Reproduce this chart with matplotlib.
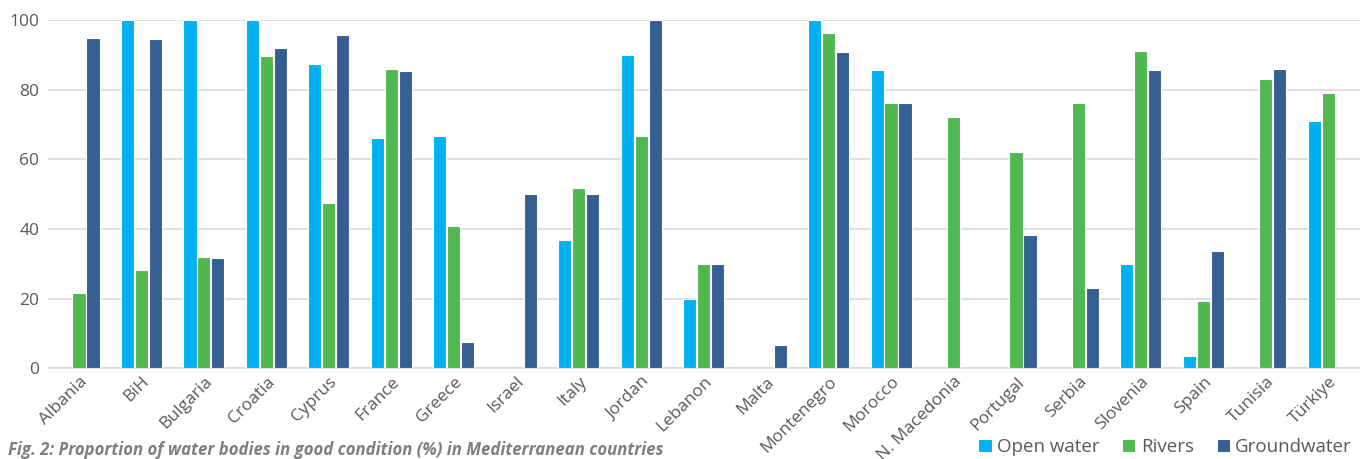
import numpy as np
import matplotlib
matplotlib.use("Agg")
import matplotlib.pyplot as plt
from matplotlib import font_manager

countries = ["Albania", "BiH", "Bulgaria", "Croatia", "Cyprus", "France", "Greece",
             "Israel", "Italy", "Jordan", "Lebanon", "Malta", "Montenegro", "Morocco",
             "N. Macedonia", "Portugal", "Serbia", "Slovenia", "Spain", "Tunisia", "Türkiye"]

nan = np.nan
open_water = [nan, 100, 100, 100, 87.4, 66.2, 66.7, nan, 36.8, 90.0, 20.0, nan, 100, 85.8,
              nan, nan, nan, 30.0, 3.6, nan, 71.0]
rivers = [21.7, 28.3, 31.8, 89.7, 47.6, 86.1, 40.8, nan, 51.8, 66.7, 30.0, nan, 96.2, 76.1,
          72.1, 62.2, 76.3, 91.2, 19.3, 83.0, 79.0]
groundwater = [95.0, 94.7, 31.6, 91.9, 95.7, 85.3, 7.4, 50.0, 50.0, 100, 30.0, 6.7, 90.8, 76.2,
               nan, 38.3, 22.9, 85.6, 33.7, 86.0, nan]

series_names = ["Open water", "Rivers", "Groundwater"]
colors = ["#00B0F0", "#50B84E", "#355E91"]
y_ticks = [0, 20, 40, 60, 80, 100]

plt.rcParams["font.family"] = ["Open Sans", "DejaVu Sans"]
text_color = "#595959"

installed = {f.name for f in font_manager.fontManager.ttflist}
caption_family = "Liberation Sans Narrow" if "Liberation Sans Narrow" in installed else "Open Sans"
caption_size = 15 if caption_family == "Liberation Sans Narrow" else 12.1

fig = plt.figure(figsize=(13.65, 4.59), dpi=100)
ax = fig.add_axes([0.035, 0.198, 0.961, 0.758])

x = np.arange(len(countries))
pitch = 0.224
width = 0.21
for i, (vals, name, col) in enumerate(zip([open_water, rivers, groundwater], series_names, colors)):
    ax.bar(x + (i - 1) * pitch, vals, width=width, color=col, edgecolor="white",
           linewidth=0.8, label=name, zorder=3)

ax.set_xlim(-0.5, len(countries) - 0.5)
ax.set_ylim(0, 100)
ax.set_yticks(y_ticks)
ax.set_yticklabels([str(t) for t in y_ticks], fontsize=12.5, color=text_color)
ax.yaxis.grid(True, color="#D9D9D9", linewidth=1.2, zorder=0)
ax.tick_params(axis="y", length=0, pad=6)
ax.tick_params(axis="x", length=0, pad=4)
for s in ["top", "right", "left"]:
    ax.spines[s].set_visible(False)
ax.spines["bottom"].set_color("#D9D9D9")
ax.spines["bottom"].set_linewidth(1.2)
ax.set_xticks(x)
ax.set_xticklabels(countries, rotation=45, ha="right", rotation_mode="anchor",
                   fontsize=12.5, color=text_color)

ax.legend(loc="lower right", bbox_to_anchor=(1.0, -0.275), ncol=3, frameon=False,
          fontsize=13.5, labelcolor=text_color, handlelength=0.7, handleheight=0.7,
          handletextpad=0.3, columnspacing=1.2, borderaxespad=0)

fig.text(0.006, 0.009, "Fig. 2: Proportion of water bodies in good condition (%) in Mediterranean countries",
         fontsize=caption_size, fontstyle="italic", fontweight="bold", color="#7F7F7F",
         ha="left", va="baseline", family=[caption_family, "DejaVu Sans"])

fig.savefig("out.png", dpi=100)
